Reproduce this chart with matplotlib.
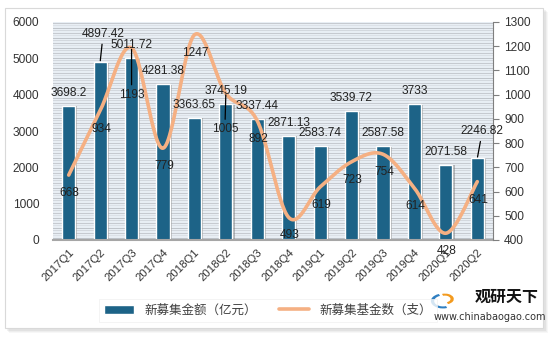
import numpy as np
import matplotlib
matplotlib.use("Agg")
import matplotlib.pyplot as plt
from matplotlib.patches import Rectangle, Wedge
import matplotlib.patheffects as pe

plt.rcParams['font.family'] = ['Noto Sans CJK SC', 'DejaVu Sans']

# ---- data ----
quarters = ["2017Q1", "2017Q2", "2017Q3", "2017Q4", "2018Q1", "2018Q2", "2018Q3",
            "2018Q4", "2019Q1", "2019Q2", "2019Q3", "2019Q4", "2020Q1", "2020Q2"]
amount = [3698.2, 4897.42, 5011.72, 4281.38, 3363.65, 3745.19, 3337.44,
          2871.13, 2583.74, 3539.72, 2587.58, 3733, 2071.58, 2246.82]
funds = [668, 934, 1193, 779, 1247, 1005, 892, 493, 619, 723, 754, 614, 428, 641]
amount_labels = ["3698.2", "4897.42", "5011.72", "4281.38", "3363.65", "3745.19", "3337.44",
                 "2871.13", "2583.74", "3539.72", "2587.58", "3733", "2071.58", "2246.82"]
left_ticks = [0, 1000, 2000, 3000, 4000, 5000, 6000]
right_ticks = [400, 500, 600, 700, 800, 900, 1000, 1100, 1200, 1300]
bar_name = "新募集金额（亿元）"
line_name = "新募集基金数（支）"

BAR_C = "#1d6387"
LINE_C = "#f5b083"
NUM_FONT = ["Liberation Sans", "DejaVu Sans"]

W, H = 550, 338
fig = plt.figure(figsize=(W / 100, H / 100), dpi=100)
fig.patch.set_facecolor("white")


def fx(px):
    return px / W


def fy(py):
    return 1 - py / H


# outer panel with a soft shadow
for k, a in enumerate([0.10, 0.08, 0.06]):
    fig.patches.append(Rectangle((fx(6 + k + 1), fy(330 + k + 1)), fx(539), 321 / H,
                                 transform=fig.transFigure, facecolor="#808080",
                                 alpha=a, edgecolor="none", zorder=-3))
fig.patches.append(Rectangle((fx(5), fy(328)), fx(538), 320 / H, transform=fig.transFigure,
                             facecolor="white", edgecolor="#d9d9d9", lw=0.8, zorder=-2))

ax = fig.add_axes([fx(53), fy(240), fx(493 - 53), (240 - 22) / H])
ax.set_facecolor("none")

# striped plot-area texture
pattern = ["#e8eef4", "#c6cad0", "#e8eef4", "#dce1e7", "#e8eef4", "#e8eef4", "#bfc4ca",
           "#e8eef4", "#d3d8de", "#e8eef4"]
rows = 218
rgb = np.array([matplotlib.colors.to_rgb(pattern[i % len(pattern)]) for i in range(rows)])
tex = np.repeat(rgb[:, None, :], 4, axis=1)
ax.imshow(tex, extent=[0, 1, 0, 1], transform=ax.transAxes, aspect="auto",
          interpolation="nearest", zorder=0)

x = np.arange(len(quarters))
bars = ax.bar(x, amount, width=0.42, color=BAR_C, edgecolor="white", lw=1.0, zorder=2)
for b in bars:
    b.set_path_effects([pe.SimplePatchShadow(offset=(1.5, -0.5), shadow_rgbFace="#7f7f7f",
                                             alpha=0.5), pe.Normal()])

ax.set_xlim(-0.5, len(quarters) - 0.5)
ax.set_ylim(0, 6000)
ax.set_yticks(left_ticks)
ax.set_yticklabels([str(t) for t in left_ticks], fontsize=8.6, color="#333333",
                   family=NUM_FONT)
ax.set_xticks(x)
ax.set_xticklabels(quarters, rotation=45, ha="right", va="top", rotation_mode="anchor",
                   fontsize=8.2, color="#333333", family=NUM_FONT)
ax.tick_params(axis="y", length=0, pad=10)
ax.tick_params(axis="x", length=0, pad=5)
for s in ["left", "top", "right"]:
    ax.spines[s].set_visible(False)
ax.spines["bottom"].set_color("#a6a6a6")
ax.spines["bottom"].set_linewidth(1.5)

# secondary axis: fund count
ax2 = ax.twinx()
ax2.set_ylim(400, 1300)
ax2.set_yticks(right_ticks)
ax2.set_yticklabels([str(t) for t in right_ticks], fontsize=8.6, color="#333333",
                    family=NUM_FONT)
ax2.tick_params(axis="y", length=4, width=0.8, color="#7f7f7f", pad=4)
for s in ["left", "top", "bottom"]:
    ax2.spines[s].set_visible(False)
ax2.spines["right"].set_color("#7f7f7f")
ax2.spines["right"].set_linewidth(0.8)

# smoothed curve through the data points (Bezier smoothing)
pts = np.column_stack([x, funds]).astype(float)
ext = np.vstack([pts[0], pts, pts[-1]])
curve = []
t = np.linspace(0, 1, 30)
for i in range(len(pts) - 1):
    p0, p1, p2, p3 = ext[i], ext[i + 1], ext[i + 2], ext[i + 3]
    c1 = p1 + (p2 - p0) / 6
    c2 = p2 - (p3 - p1) / 6
    seg = ((1 - t) ** 3)[:, None] * p1 + (3 * (1 - t) ** 2 * t)[:, None] * c1 \
        + (3 * (1 - t) * t ** 2)[:, None] * c2 + (t ** 3)[:, None] * p2
    curve.append(seg if i == 0 else seg[1:])
curve = np.vstack(curve)
line, = ax2.plot(curve[:, 0], curve[:, 1], color=LINE_C, lw=2.6, solid_capstyle="round",
                 zorder=3)

leader = dict(arrowstyle="-", color="black", lw=0.9, shrinkA=1, shrinkB=1)

# bar value labels (drawn on the top axes so they sit above the curve)
bar_off = {1: (3, 28), 13: (5, 27)}
for i, (v, s) in enumerate(zip(amount, amount_labels)):
    dx, dy = bar_off.get(i, (0, 13))
    kw = {"arrowprops": leader} if i in bar_off else {}
    ax2.annotate(s, xy=(i, v), xycoords=ax.transData, xytext=(dx, dy),
                 textcoords="offset pixels", ha="center", va="center", fontsize=8.6,
                 color="#222222", family=NUM_FONT, zorder=6, **kw)

# fund count labels
line_off = {2: (0, -47), 5: (-1, -36)}
for i, v in enumerate(funds):
    dx, dy = line_off.get(i, (1, -18))
    kw = {"arrowprops": leader} if i in line_off else {}
    ax2.annotate(str(v), xy=(i, v), xytext=(dx, dy), textcoords="offset pixels",
                 ha="center", va="center", fontsize=8.6, color="#222222",
                 family=NUM_FONT, zorder=6, **kw)

# legend
leg = fig.legend([bars, line], [bar_name, line_name], ncol=2, loc="center",
                 bbox_to_anchor=(fx(268), fy(310)), fontsize=9, frameon=True,
                 fancybox=False, edgecolor="#f0f0f0", handlelength=2.4,
                 columnspacing=1.8, labelcolor="#404040")
leg.get_frame().set_linewidth(0.6)
for h in leg.legend_handles:
    h.set_path_effects([])

# brand mark
fig.patches.append(Wedge((fx(443), fy(301)), 0.022, 110, 290, width=0.006,
                         transform=fig.transFigure, facecolor="#2f7fc1", edgecolor="none",
                         zorder=5))
fig.patches.append(Wedge((fx(445), fy(299)), 0.016, 290, 110, width=0.006,
                         transform=fig.transFigure, facecolor="#f39a1e", edgecolor="none",
                         zorder=5))
fig.text(fx(507), fy(297), "观研天下", fontsize=11.5, fontweight="bold", color="#111111",
         ha="center", va="center", zorder=6)
fig.text(fx(490), fy(317), "www.chinabaogao.com", fontsize=7, color="#333333",
         family=["DejaVu Sans"], ha="center", va="center", zorder=6)

fig.savefig("out.png", dpi=100)
